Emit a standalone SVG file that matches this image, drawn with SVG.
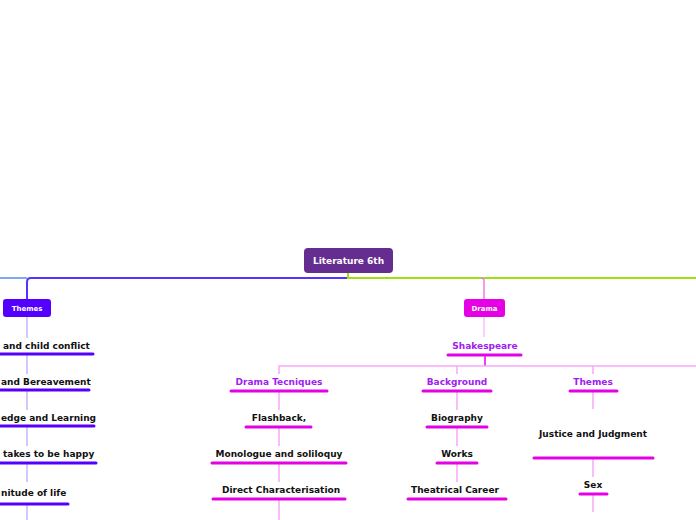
<svg xmlns="http://www.w3.org/2000/svg" width="696" height="520" viewBox="0 0 696 520">
<style>
text{font-family:"DejaVu Sans","Verdana",sans-serif;font-weight:bold;text-anchor:middle}
.t{font-size:9px;fill:#111}
.s{text-anchor:start}
.p{font-size:9px;fill:#A020F0}
.n{font-size:7px;fill:#fff}
.ub{stroke:#5500FF;stroke-width:3;stroke-linecap:round;fill:none}
.um{stroke:#E600E6;stroke-width:3;stroke-linecap:round;fill:none}
.lb{stroke:#A890FF;stroke-width:1;fill:none}
.lm{stroke:#F7A8F7;stroke-width:1.5;fill:none}
</style>
<rect width="696" height="520" fill="#fff"/>
<g id="connectors">
<path d="M0 278H27" stroke="#7FA8F5" stroke-width="2" fill="none"/>
<path d="M348 278H31Q27 278 27 282V299" stroke="#5533FF" stroke-width="2" fill="none"/>
<path d="M348 273V278H696" stroke="#A0E010" stroke-width="2" fill="none"/>
<path d="M481 278Q484 278 484 281V299" stroke="#F07AF0" stroke-width="1.5" fill="none"/>
<path class="lb" d="M27 317V338M27 355V374M27 391V410M27 427V446M27 463V482M27 505V520"/>
<path d="M484 317V337" stroke="#F9C0F9" stroke-width="1.5" fill="none"/>
<path d="M485 355V366" stroke="#E600E6" stroke-width="1.5" fill="none"/>
<path class="lm" d="M279 374V366H696M457 366V374M593 366V374"/>
<path class="lm" d="M279 391V410M279 427V446M279 463V482M279 499V520"/>
<path class="lm" d="M457 391V410M457 427V446M457 463V482"/>
<path class="lm" d="M593 391V409M593 458V477M593 494V512"/>
</g>
<g id="root"><rect x="304" y="248" width="89" height="25" rx="4" fill="#662D91"/><text class="n" style="font-size:9px" x="348.5" y="264">Literature 6th</text></g>
<g id="themes"><rect x="3" y="299" width="48" height="18" rx="3" fill="#5500FF"/><text class="n" x="27" y="310.5">Themes</text></g>
<g id="t1"><text class="t s" x="3" y="349">and child conflict</text><path class="ub" d="M0 354H93"/></g>
<g id="t2"><text class="t s" x="1" y="385">and Bereavement</text><path class="ub" d="M0 390H89"/></g>
<g id="t3"><text class="t s" x="1" y="421">edge and Learning</text><path class="ub" d="M0 426H94"/></g>
<g id="t4"><text class="t s" x="3" y="457">takes to be happy</text><path class="ub" d="M0 463H96"/></g>
<g id="t5"><text class="t s" x="1" y="496">nitude of life</text><path class="ub" d="M0 504H68"/></g>
<g id="drama"><rect x="464" y="299" width="41" height="18" rx="3" fill="#E600E6"/><text class="n" x="484.5" y="310.5">Drama</text></g>
<g id="shakespeare"><text class="p" x="485" y="349">Shakespeare</text><path class="um" d="M448 355H521"/></g>
<g id="dt"><text class="p" x="279" y="385">Drama Tecniques</text><path class="um" d="M231 391H327"/></g>
<g id="d1"><text class="t" x="279" y="421">Flashback,</text><path class="um" d="M246 427H311"/></g>
<g id="d2"><text class="t" x="279" y="457">Monologue and soliloquy</text><path class="um" d="M212 463H346"/></g>
<g id="d3"><text class="t" x="281" y="493">Direct Characterisation</text><path class="um" d="M213 499H345"/></g>
<g id="bg"><text class="p" x="457" y="385">Background</text><path class="um" d="M423 391H491"/></g>
<g id="b1"><text class="t" x="457" y="421">Biography</text><path class="um" d="M427 427H487"/></g>
<g id="b2"><text class="t" x="457" y="457">Works</text><path class="um" d="M437 463H477"/></g>
<g id="b3"><text class="t" x="455" y="493">Theatrical Career</text><path class="um" d="M408 499H506"/></g>
<g id="th"><text class="p" x="593" y="385">Themes</text><path class="um" d="M570 391H617"/></g>
<g id="h1"><text class="t" x="593" y="437">Justice and Judgment</text><path class="um" d="M534 458H653"/></g>
<g id="h2"><text class="t" x="593" y="488">Sex</text><path class="um" d="M580 494H607"/></g>
</svg>
